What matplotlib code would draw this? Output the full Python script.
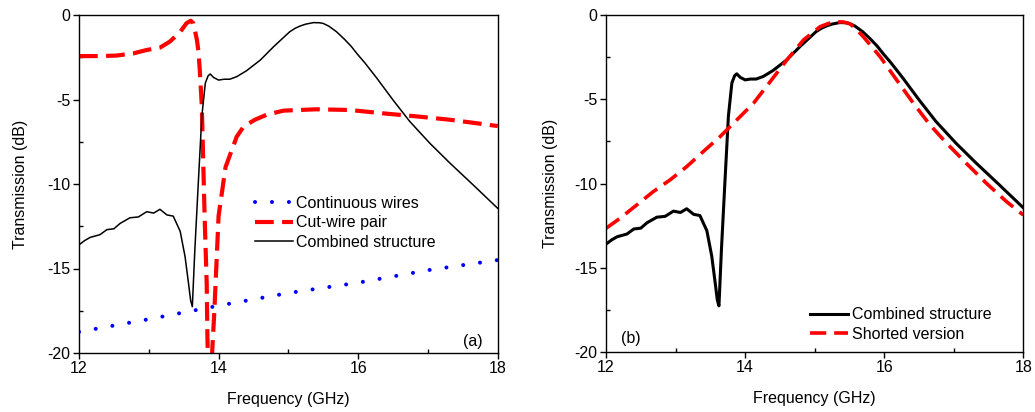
import numpy as np
import matplotlib
matplotlib.use("Agg")
import matplotlib.pyplot as plt
from matplotlib.ticker import MultipleLocator

plt.rcParams['font.family'] = ['Liberation Sans', 'DejaVu Sans']

# ---- data ----
wires_f = [12.0, 13.0, 14.0, 15.0, 16.0, 17.0, 18.0]
wires_t = [-18.75, -18.0, -17.2, -16.45, -15.84, -15.1, -14.5]

cut_f = [12.0, 12.3, 12.54, 12.78, 12.97, 13.16, 13.3, 13.45, 13.54, 13.6, 13.64,
         13.69, 13.71, 13.73, 13.76, 13.8, 13.83, 13.84, 13.875, 13.91, 13.94, 14.0,
         14.1, 14.26, 14.36, 14.52, 14.69, 14.93, 15.4, 15.88, 16.36, 16.84, 17.32, 18.0]
cut_t = [-2.43, -2.43, -2.4, -2.27, -2.07, -1.93, -1.58, -1.0, -0.49, -0.34, -0.49,
         -1.48, -2.1, -3.2, -5.4, -11.9, -15.9, -19.0, -26.0, -19.8, -17.5, -11.9,
         -9.0, -7.2, -6.6, -6.2, -5.9, -5.66, -5.58, -5.62, -5.82, -6.0, -6.2, -6.57]

comb_f = [12.0, 12.08, 12.16, 12.3, 12.4, 12.5, 12.59, 12.73, 12.85, 12.97, 13.07,
          13.16, 13.26, 13.35, 13.45, 13.52, 13.57, 13.6, 13.624, 13.66, 13.71, 13.76,
          13.81, 13.85, 13.88, 13.93, 14.0, 14.08, 14.16, 14.26, 14.4, 14.6, 14.79,
          15.02, 15.1, 15.17, 15.25, 15.36, 15.45, 15.5, 15.58, 15.69, 15.8, 15.9,
          15.98, 16.1, 16.27, 16.5, 16.74, 17.03, 17.32, 17.65, 18.0]
comb_t = [-13.6, -13.35, -13.16, -13.0, -12.7, -12.65, -12.33, -12.0, -11.95, -11.64, -11.72,
          -11.5, -11.83, -11.9, -12.8, -14.3, -15.9, -16.9, -17.26, -13.9, -9.9, -6.0,
          -4.03, -3.6, -3.49, -3.7, -3.85, -3.8, -3.8, -3.65, -3.3, -2.66, -1.87,
          -0.99, -0.78, -0.65, -0.54, -0.45, -0.46, -0.5, -0.66, -0.99, -1.42, -1.85,
          -2.27, -2.85, -3.75, -5.03, -6.3, -7.6, -8.78, -10.06, -11.44]

short_f = [12.0, 12.2, 12.44, 12.68, 12.92, 13.16, 13.4, 13.64, 13.88, 14.12, 14.36,
           14.6, 14.84, 15.08, 15.2, 15.32, 15.42, 15.51, 15.6, 15.7, 15.94, 16.18,
           16.42, 16.66, 16.9, 17.18, 17.47, 17.76, 18.0]
short_t = [-12.66, -12.07, -11.28, -10.48, -9.79, -9.0, -8.1, -7.22, -6.23, -5.24, -3.96,
           -2.67, -1.48, -0.69, -0.5, -0.4, -0.42, -0.53, -0.85, -1.29, -2.47, -3.86,
           -5.24, -6.53, -7.62, -8.8, -9.99, -11.08, -11.87]

xticks = [12, 14, 16, 18]
yticks = [0, -5, -10, -15, -20]
ytick_labels = ['0', '-5', '-10', '-15', '-20']

FS = 11.5

fig = plt.figure(figsize=(10.35, 4.12), dpi=100)
axL = fig.add_axes([79/1035, 1-353/412, 418.7/1035, 338/412])
axR = fig.add_axes([606/1035, 1-352/412, 417.3/1035, 337/412])

def style(ax, ylabelpad):
    ax.set_xlim(12, 18)
    ax.set_ylim(-20, 0)
    ax.set_xticks(xticks)
    ax.set_yticks(yticks)
    ax.set_yticklabels(ytick_labels)
    ax.xaxis.set_minor_locator(MultipleLocator(1))
    ax.yaxis.set_minor_locator(MultipleLocator(2.5))
    ax.tick_params(which='major', direction='out', length=4, width=1, labelsize=FS, pad=2)
    ax.tick_params(which='minor', direction='in', length=3, width=1)
    for s in ax.spines.values():
        s.set_linewidth(1.0)
    ax.set_xlabel('Frequency (GHz)', fontsize=FS, labelpad=11)
    ax.set_ylabel('Transmission (dB)', fontsize=FS, labelpad=ylabelpad)

# Left panel
axL.plot(wires_f, wires_t, color='#0000ff', lw=2.9, linestyle=(0, (0.01, 4.2)),
         dash_capstyle='round', label='Continuous wires')
axL.plot(cut_f, cut_t, color='#ff0000', lw=3.0, linestyle=(0, (4.5, 2.0)),
         label='Cut-wire pair')
axL.plot(comb_f, comb_t, color='black', lw=1.1, label='Combined structure')
style(axL, 14)
axL.legend(loc='upper left', bbox_to_anchor=(0.42, 0.465), frameon=False,
           fontsize=FS, handlelength=2.4, handletextpad=0.2, labelspacing=0.28,
           borderpad=0, borderaxespad=0)
axL.text(17.65, -19.3, '(a)', fontsize=FS, ha='center', va='center')

# Right panel
axR.plot(comb_f, comb_t, color='black', lw=2.2, label='Combined structure')
axR.plot(short_f, short_t, color='#ff0000', lw=2.6, linestyle=(0, (4.5, 2.2)),
         label='Shorted version')
style(axR, 12)
axR.legend(loc='upper left', bbox_to_anchor=(0.489, 0.133), frameon=False,
           fontsize=FS, handlelength=2.4, handletextpad=0.2, labelspacing=0.28,
           borderpad=0, borderaxespad=0)
axR.text(12.35, -19.2, '(b)', fontsize=FS, ha='center', va='center')

fig.savefig('out.png', dpi=100)
